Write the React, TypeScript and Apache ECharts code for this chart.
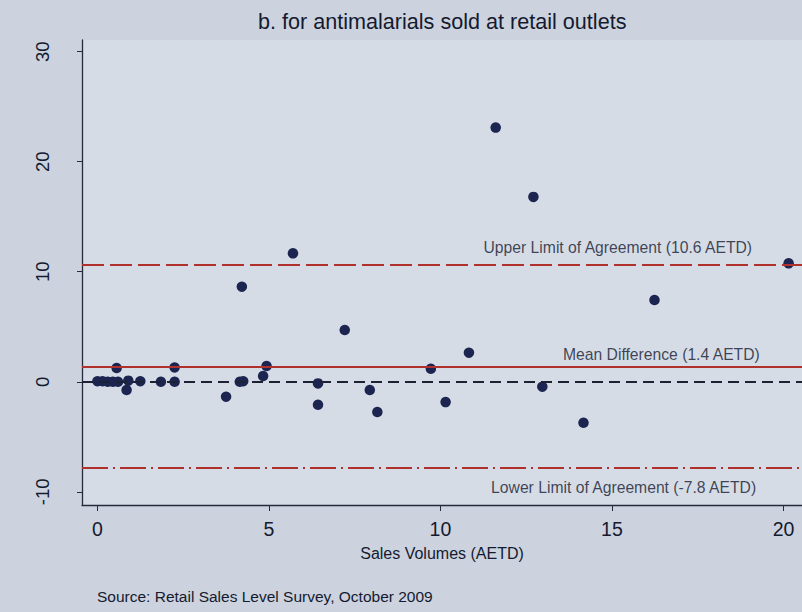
import { useEffect, useRef } from "react";
import * as echarts from "echarts";

// Bland–Altman style plot: difference vs. sales volume (AETD)
const salesVolume = [
  0.0, 0.15, 0.3, 0.45, 0.6, 0.56, 0.85, 0.9, 1.25, 1.85, 2.25, 2.25, 3.75, 4.15, 4.25, 4.21,
  4.83, 4.93, 5.7, 6.43, 6.43, 7.21, 7.94, 8.16, 9.72, 10.15, 10.83, 11.61, 12.71, 12.97, 14.17,
  16.24, 20.15,
];
const difference = [
  0.05, 0.05, 0.0, 0.0, 0.0, 1.25, -0.75, 0.1, 0.05, 0.0, 0.0, 1.3, -1.36, 0.0, 0.05, 8.64,
  0.52, 1.43, 11.67, -0.15, -2.09, 4.7, -0.75, -2.75, 1.18, -1.85, 2.64, 23.1, 16.8, -0.45, -3.73,
  7.43, 10.76,
];

const meanDifference = 1.4;
const upperLimit = 10.6;
const lowerLimit = -7.8;

const xTicks = [0, 5, 10, 15, 20];
const yTicks = [-10, 0, 10, 20, 30];

const titleText = "b. for antimalarials sold at retail outlets";
const xAxisTitle = "Sales Volumes (AETD)";
const sourceNote = "Source: Retail Sales Level Survey, October 2009";

const upperText = `Upper Limit of Agreement (${upperLimit} AETD)`;
const meanText = `Mean Difference (${meanDifference} AETD)`;
const lowerText = `Lower Limit of Agreement (${lowerLimit} AETD)`;

const ink = "#141a30";
const red = "#b0302c";
const font = "'Liberation Sans', Arial, sans-serif";

export default function App() {
  const ref = useRef<HTMLDivElement>(null);

  useEffect(() => {
    const chart = echarts.init(ref.current!, null, { renderer: "svg" });
    const points = salesVolume.map((x, i) => [x, difference[i]]);

    chart.setOption({
      animation: false,
      backgroundColor: "#ccd3de",
      textStyle: { fontFamily: font },
      title: {
        text: titleText,
        left: 253,
        top: 5,
        textStyle: { fontSize: 21.6, fontWeight: "normal", color: ink, fontFamily: font },
      },
      grid: {
        left: 82,
        right: 0,
        top: 40,
        bottom: 107,
        show: true,
        backgroundColor: "#d6dce6",
        borderWidth: 0,
      },
      xAxis: {
        type: "value",
        min: -0.45,
        max: 20.54,
        axisLine: { show: true, onZero: false, lineStyle: { color: "#262b3c", width: 1.3 } },
        axisTick: { show: true, customValues: xTicks, length: 6, lineStyle: { color: "#262b3c" } },
        axisLabel: { customValues: xTicks, fontSize: 19.5, color: ink, margin: 14 },
        splitLine: { show: false },
        name: xAxisTitle,
        nameLocation: "middle",
        nameGap: 40,
        nameTextStyle: { fontSize: 16, color: ink },
      },
      yAxis: {
        type: "value",
        min: -11.2,
        max: 31.06,
        axisLine: { show: true, onZero: false, lineStyle: { color: "#262b3c", width: 1.3 } },
        axisTick: { show: true, customValues: yTicks, length: 5, lineStyle: { color: "#262b3c" } },
        axisLabel: { customValues: yTicks, rotate: 90, fontSize: 18.5, color: ink, margin: 30 },
        splitLine: { show: false },
      },
      series: [
        {
          type: "line",
          data: [],
          z: 1,
          markLine: {
            silent: true,
            symbol: "none",
            label: { show: false },
            data: [
              { yAxis: 0, lineStyle: { color: "#1c2134", type: [11, 6], width: 2 } },
              { yAxis: meanDifference, lineStyle: { color: red, type: "solid", width: 2 } },
              { yAxis: upperLimit, lineStyle: { color: red, type: [22, 6], width: 2 } },
              { yAxis: lowerLimit, lineStyle: { color: red, type: [26, 5, 2, 5], width: 2 } },
            ],
          },
        },
        {
          type: "scatter",
          data: points,
          symbolSize: 10.5,
          z: 3,
          itemStyle: { color: "#1b2550", opacity: 1 },
        },
        {
          type: "scatter",
          symbolSize: 0,
          z: 2,
          silent: true,
          label: { show: true, fontSize: 15.7, color: ink, fontFamily: font },
          data: [
            {
              value: [15.17, upperLimit],
              label: { formatter: upperText, position: "top", distance: 10 },
            },
            {
              value: [16.44, meanDifference],
              label: { formatter: meanText, position: "top", distance: 4 },
            },
            {
              value: [15.34, lowerLimit],
              label: { formatter: lowerText, position: "bottom", distance: 12 },
            },
          ],
        },
      ],
      graphic: [
        {
          type: "text",
          left: 97,
          top: 588,
          style: { text: sourceNote, fontSize: 15.5, fill: ink, fontFamily: font },
        },
      ],
    });

    return () => chart.dispose();
  }, []);

  return (
    <div
      ref={ref}
      style={{ position: "fixed", left: 0, top: 0, width: 802, height: 612 }}
    />
  );
}
